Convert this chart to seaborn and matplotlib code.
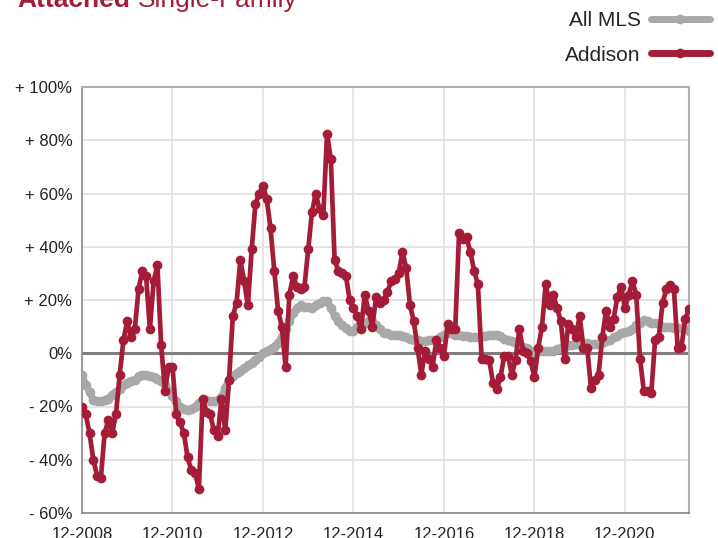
import numpy as np
import pandas as pd
import seaborn as sns
import matplotlib.pyplot as plt
from matplotlib.lines import Line2D

# month-by-month % change, starting 12-2008
addison = [-20, -23, -30, -40, -46, -47, -30, -25, -30, -23,
           -8, 5, 12, 6, 9, 24, 31, 29, 9, 27,
           33, 3, -14, -5, -5, -23, -26, -30, -39, -44,
           -45, -51, -17, -22, -23, -29, -31, -17, -29, -10,
           14, 19, 35, 27, 18, 39, 56, 60, 63, 58,
           47, 31, 16, 10, -5, 22, 29, 25, 24, 25,
           39, 53, 60, 54, 52, 82.5, 73, 35, 31, 30,
           29, 20, 17, 14, 9, 22, 16, 10, 21, 19,
           20, 23, 27, 28, 30, 38, 32, 18, 12, 2,
           -8, 1, -2, -5, 5, 2, -1, 11, 9, 9,
           45, 43, 43.5, 38, 31, 26, -2, -2, -2.4, -11,
           -13.6, -9, -1, -1, -8, -2.4, 9, 1, 0, -3,
           -9, 2, 10, 26, 18, 22, 17, 12, -2, 11,
           9, 6, 14, 2, 2, -13, -10, -8, 6, 16,
           10, 13, 21, 25, 17, 22, 27, 22, -2, -14,
           -14, -15, 5, 6, 19, 24, 25.5, 24, 2, 2.4,
           13, 16.5]

all_mls = [-8, -12, -14.5, -17.5, -18, -18, -17.5, -17, -15.5, -14.5,
           -13.5, -12, -11, -10.5, -10, -8.5, -8, -8, -8.5, -9,
           -9.5, -10.5, -12, -14, -16, -18, -20, -21, -21.5, -21,
           -20, -18.5, -18, -17.5, -18, -18, -17.5, -16.5, -13, -10,
           -8.5, -7.5, -6.5, -5.5, -4.5, -3.5, -2.5, -1.5, 0, 1,
           1.5, 2.5, 4, 6, 9, 12, 15, 17, 18, 17.5,
           17.5, 17, 18, 19, 19.5, 19.5, 17, 14, 12, 10.5,
           9.5, 8.5, 8.5, 10, 11, 11.5, 12, 12, 10.5, 9,
           7.5, 7.5, 7, 7, 7, 6.5, 6, 5.5, 5, 5,
           4.5, 4.5, 5, 5, 5, 6, 7, 8, 7.5, 7,
           7, 6.5, 6.5, 6, 6, 6, 6.5, 6.5, 7, 7,
           7, 6.5, 5.5, 5, 4.5, 4, 3.5, 2.5, 2, 1,
           0.5, 1, 1, 1, 1, 1, 1.5, 2, 2.5, 3,
           3, 3.5, 3.5, 4, 4, 3.5, 3.5, 3.5, 4, 4.5,
           5, 6, 6.5, 7.5, 8, 8.5, 9, 10.5, 11.5, 12.5,
           12, 11.5, 11.5, 11, 10, 10, 10, 9.5, 9.5, 9.5,
           9, 8.5]

tick_labels = ['12-2008', '12-2010', '12-2012', '12-2014', '12-2016', '12-2018', '12-2020']
y_ticks = [-60, -40, -20, 0, 20, 40, 60, 80, 100]

red = '#A51C38'
grey = '#A8A8A8'

df = pd.DataFrame({'month': np.arange(len(addison)), 'Addison': addison, 'All MLS': all_mls})

sns.set_style('white')
plt.rcParams['font.family'] = ['Liberation Sans', 'DejaVu Sans']

fig = plt.figure(figsize=(7.18, 5.38), dpi=100)
ax = fig.add_axes([82 / 718, 25 / 538, 607 / 718, 426 / 538])

ax.axhline(0, color='#7F7F7F', lw=2.2, zorder=2)
sns.lineplot(data=df, x='month', y='All MLS', ax=ax, color=grey, lw=5,
             marker='o', markersize=7, markeredgewidth=0, zorder=3)
sns.lineplot(data=df, x='month', y='Addison', ax=ax, color=red, lw=3.4,
             marker='o', markersize=7, markeredgewidth=0, zorder=4)

ax.set_xlim(0, len(addison) - 1)
ax.set_ylim(-60, 100)
ax.set_xticks(np.arange(len(tick_labels)) * 24)
ax.set_xticklabels(tick_labels)
ax.set_yticks(y_ticks)
ax.set_yticklabels([('+ %d%%' % v) if v > 0 else ('0%' if v == 0 else '- %d%%' % -v) for v in y_ticks])
ax.set_xlabel('')
ax.set_ylabel('')
ax.grid(True, color='#E2E2E2', lw=1.3, zorder=0)
ax.set_axisbelow(True)
ax.tick_params(axis='both', labelsize=12, colors='#222222', length=3, width=1, pad=4)
ax.tick_params(axis='x', length=0, pad=10)
ax.tick_params(axis='y', color='#888888')
for side in ['left', 'bottom']:
    ax.spines[side].set_color('#888888')
    ax.spines[side].set_linewidth(1.2)
for side in ['top', 'right']:
    ax.spines[side].set_color('#B0B0B0')
    ax.spines[side].set_linewidth(1.5)

# title, cut off at the top like the original
t1 = fig.text(17 / 718, 1 - 7 / 538, 'Attached', color=red, fontsize=19,
              fontweight='bold', va='baseline', ha='left')
fig.canvas.draw()
bb = t1.get_window_extent()
fig.text((bb.x1 + 8) / 718, 1 - 7 / 538, 'Single-Family', color=red, fontsize=19,
         va='baseline', ha='left')

handles = [Line2D([], [], color=grey, lw=5, marker='o', markersize=6, solid_capstyle='round'),
           Line2D([], [], color=red, lw=5, marker='o', markersize=6, solid_capstyle='round')]
fig.legend(handles, ['All MLS', 'Addison'], loc='upper right', bbox_to_anchor=(1.0, 0.995),
           frameon=False, markerfirst=False, fontsize=15, handlelength=2.8,
           handletextpad=0.5, labelspacing=0.75, borderaxespad=0)

fig.savefig('out.png', dpi=100)
